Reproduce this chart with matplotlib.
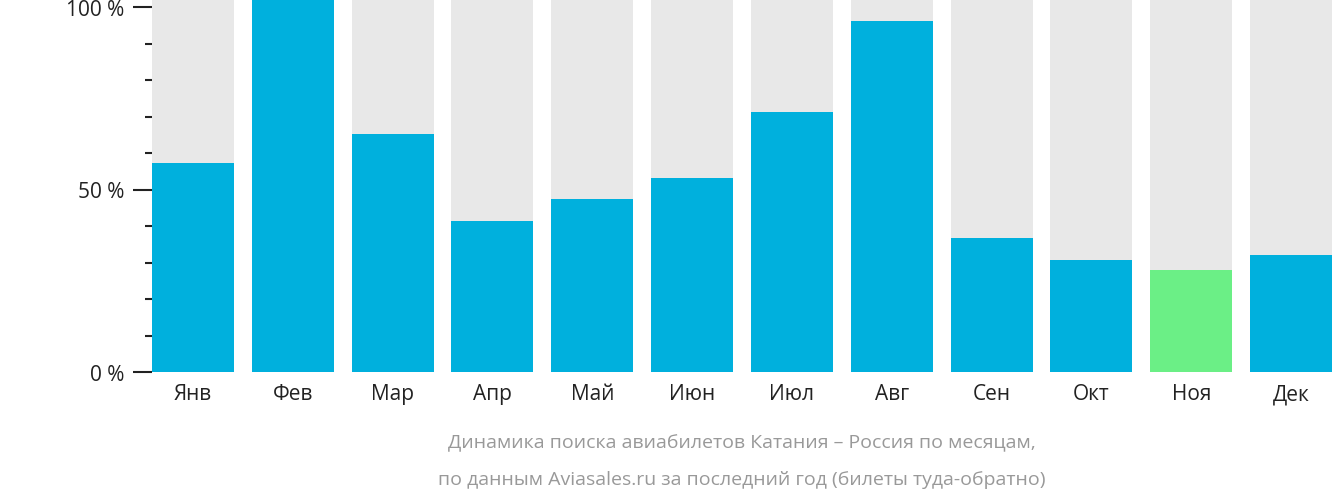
import matplotlib
matplotlib.use('Agg')
import matplotlib.pyplot as plt
from matplotlib.ticker import MultipleLocator

plt.rcParams['font.family'] = 'Open Sans'

months = ['Янв', 'Фев', 'Мар', 'Апр', 'Май', 'Июн', 'Июл', 'Авг', 'Сен', 'Окт', 'Ноя', 'Дек']
values = [57.3, 102.2, 65.2, 41.4, 47.4, 53.2, 71.2, 96.2, 36.7, 30.7, 27.9, 32.1]
background = [102.2] * 12
colors = ['#00b0dd'] * 12
colors[10] = '#6bef86'

fig = plt.figure(figsize=(13.32, 5.02), dpi=100)
ax = fig.add_axes([152 / 1332, 129 / 502, 1180 / 1332, 365 / 502])

x = range(len(months))
ax.bar(x, background, width=0.82, color='#e8e8e8')
ax.bar(x, values, width=0.82, color=colors)

ax.set_xlim(-0.41, 11.41)
ax.set_ylim(0, 100)
ax.set_clip_on(False)
for p in ax.patches:
    p.set_clip_on(False)

ax.yaxis.set_major_locator(MultipleLocator(50))
ax.yaxis.set_minor_locator(MultipleLocator(10))
ax.set_yticks([0, 50, 100])
ax.set_yticklabels(['0 %', '50 %', '100 %'], fontsize=15, color='#222222')
ax.tick_params(axis='y', which='major', length=14, width=1.5, pad=6, color='#222222')
ax.tick_params(axis='y', which='minor', length=5, width=1.5, color='#222222')
ax.set_xticks(list(x))
ax.set_xticklabels(months, fontsize=15, color='#222222')
ax.tick_params(axis='x', length=0, pad=8)
for s in ax.spines.values():
    s.set_visible(False)

fig.text(742 / 1332, 1 - 443 / 502, 'Динамика поиска авиабилетов Катания – Россия по месяцам,',
         ha='center', va='center', fontsize=14, color='#999999')
fig.text(742 / 1332, 1 - 480 / 502, 'по данным Aviasales.ru за последний год (билеты туда-обратно)',
         ha='center', va='center', fontsize=14, color='#999999')

fig.savefig('out.png', dpi=100)
